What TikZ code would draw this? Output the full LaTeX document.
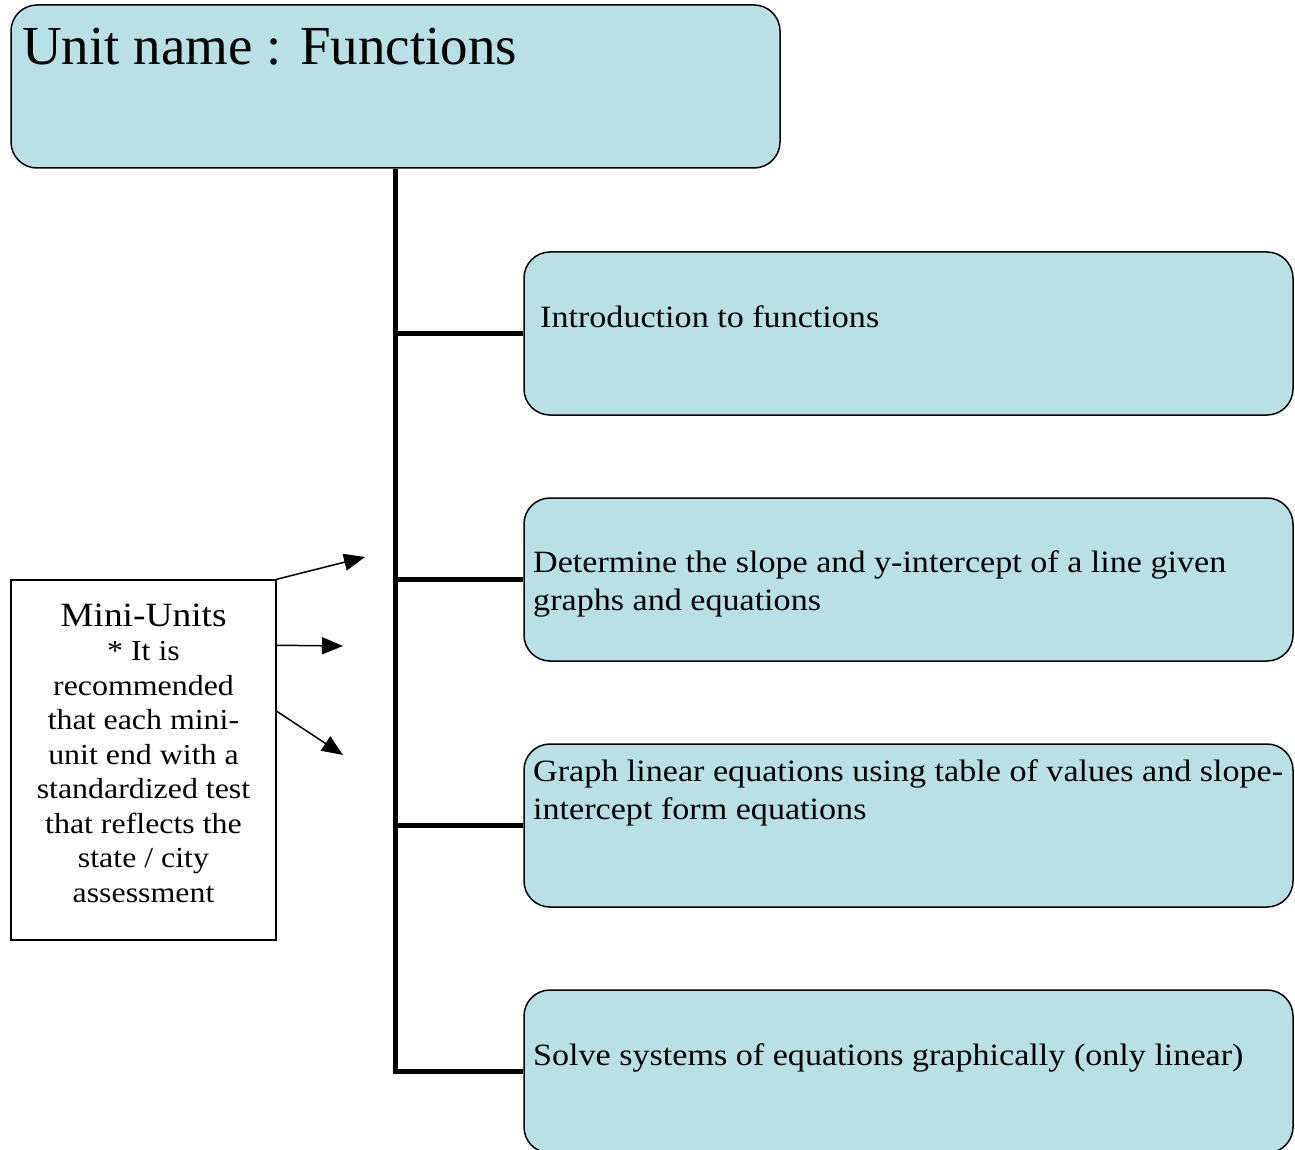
\documentclass[tikz,border=0pt]{standalone}
\usepackage{fontspec}
\setmainfont{Liberation Serif}[FakeStretch=1.1]
\newfontfamily\titlefont{Liberation Serif}
\usetikzlibrary{arrows.meta,positioning}
\definecolor{unitfill}{RGB}{185,224,228}
\tikzset{
  topicbox/.style={draw,line width=1.5pt,rounded corners=26pt,fill=unitfill,
    minimum width=769pt,minimum height=163pt,inner sep=0pt},
  topictext/.style={anchor=west,inner sep=0pt,align=left,
    font=\fontsize{31}{38}\selectfont},
  branch/.style={line width=4.5pt},
  pointer/.style={line width=1.5pt,-{Triangle[length=21pt,width=17pt]}}
}
\begin{document}
\begin{tikzpicture}[x=1pt,y=-1pt]
  \useasboundingbox (0,0) rectangle (1295,1150);
  \node[topicbox] (unit) at (395.5,86.5) {};
  \node[anchor=base west,inner sep=0pt,font=\titlefont\fontsize{55}{60}\selectfont]
    (unitname) at (22,65) {Unit name : Functions};
  % one rounded box per mini-unit
  \node[topicbox] (intro) at (908.5,333.5) {};
  \node[topicbox] (slope) at (908.5,579.5) {};
  \node[topicbox] (graph) at (908.5,825.5) {};
  \node[topicbox] (solve) at (908.5,1071.5) {};
  \node[topictext] (introtext) at (540,317) {Introduction to functions};
  \node[topictext] (slopetext) at (533,584)
    {Determine the slope and y-intercept of a line given\\graphs and equations};
  \node[topictext] (graphtext) at (533,793)
    {Graph linear equations using table of values and slope-\\intercept form equations};
  \node[topictext] (solvetext) at (533,1058)
    {Solve systems of equations graphically (only linear)};
  \draw[branch] (unit.south) |- (solve.west);
  \foreach \b in {intro,slope,graph}
    \draw[branch] (\b.west) -- (\b.west -| unit.south);
  % note box on the left
  \node[draw,line width=1.5pt,minimum width=265pt,minimum height=360pt,inner sep=0pt]
    (mini) at (143.5,760) {};
  \node[align=center,inner sep=0pt,font=\fontsize{29}{34.5}\selectfont] (minitext) at (143.5,753)
    {{\fontsize{34}{40}\selectfont Mini-Units}\\* It is\\recommended\\that each mini-\\unit end with a\\
     standardized test\\that reflects the\\state / city\\assessment};
  \coordinate (tipA) at (365,557);
  \coordinate (tipB) at (343,646);
  \coordinate (tipC) at (343,755);
  \draw[pointer] (mini.north east) -- (tipA);
  \draw[pointer] ([yshift=-66pt]mini.north east) -- (tipB);
  \draw[pointer] ([yshift=-132pt]mini.north east) -- (tipC);
\end{tikzpicture}
\end{document}
